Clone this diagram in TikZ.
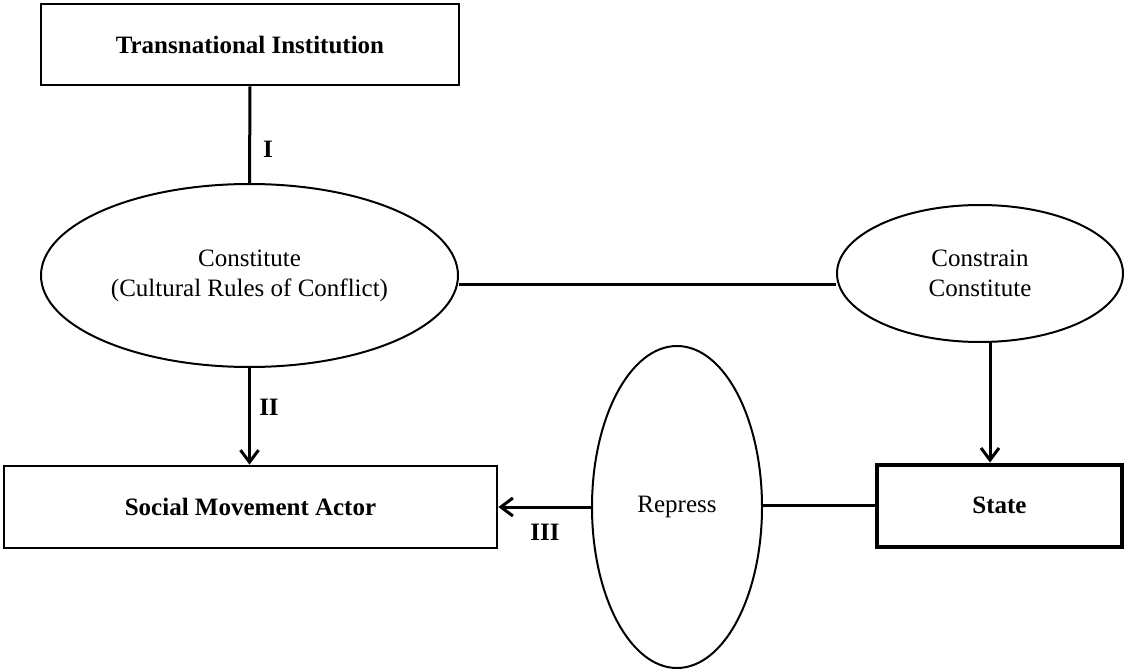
\documentclass[tikz,border=0pt]{standalone}
\usepackage{fontspec}
\setmainfont{Liberation Serif}
\usetikzlibrary{shapes.geometric,arrows.meta}
\begin{document}
\begin{tikzpicture}[x=1pt,y=-1pt,
  every node/.style={font=\fontsize{25}{30}\selectfont},
  box/.style={draw, line width=2.8pt, inner sep=0pt, align=center,
              font=\bfseries\fontsize{25}{30}\selectfont},
  oval/.style={draw, ellipse, line width=2pt, inner sep=0pt, align=center},
  link/.style={line width=3pt},
  arr/.style={link, -{Straight Barb[length=12pt,width=18pt]}},
  tag/.style={font=\bfseries\fontsize{25}{30}\selectfont, inner sep=0pt}]
\useasboundingbox (0,0) rectangle (1125,671);
\fill[white] (0,0) rectangle (1125,671);

% actors
\node[box, minimum width=418pt, minimum height=81pt] (trans) at (250,44.5) {Transnational Institution};
\node[box, minimum width=493pt, minimum height=82pt] (sma) at (250.5,507) {Social Movement Actor};
\node[box, line width=4pt, minimum width=245pt, minimum height=82pt] (state) at (999.5,505.5) {State};

% mechanisms
\node[oval, minimum width=417pt, minimum height=183pt] (cult) at (249.5,275.5) {Constitute\\(Cultural Rules of Conflict)};
\node[oval, minimum width=286pt, minimum height=137pt] (cons) at (980,273.5) {Constrain\\Constitute};
\node[oval, minimum width=170pt, minimum height=322pt] (rep) at (677,507) {Repress};

% connectors
\draw[link] (trans.south) -- (cult.north);
\draw[arr] (cult.south) -- (cult.south |- sma.north);
\draw[link] ([yshift=-9.5pt]cult.east) -- ([yshift=-11.5pt]cons.west);
\coordinate (consfoot) at ([xshift=10pt,yshift=0.3pt]cons.south);
\draw[arr] (consfoot) -- (consfoot |- state.north);
\draw[link] (state.west) -- (state.west -| rep.east);
\draw[arr] (rep.west) -- (rep.west -| sma.east);

% labels
\node[tag] (l1) at (268,149) {I};
\node[tag] (l2) at (269,407) {II};
\node[tag] (l3) at (545,532) {III};
\end{tikzpicture}
\end{document}
